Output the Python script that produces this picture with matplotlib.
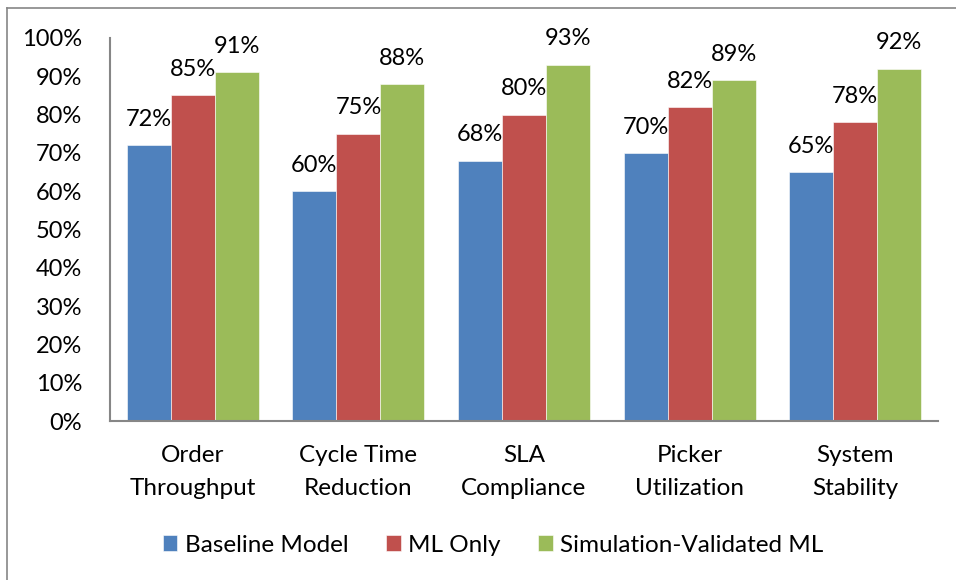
import matplotlib
matplotlib.use("Agg")
import matplotlib.pyplot as plt
import numpy as np
from matplotlib.ticker import FuncFormatter, MultipleLocator
from matplotlib.lines import Line2D

categories = ["Order\nThroughput", "Cycle Time\nReduction", "SLA\nCompliance", "Picker\nUtilization", "System\nStability"]
series_names = ["Baseline Model", "ML Only", "Simulation-Validated ML"]
baseline = [72, 60, 68, 70, 65]
ml_only = [85, 75, 80, 82, 78]
sim_ml = [91, 88, 93, 89, 92]
colors = ["#4F81BD", "#C0504D", "#9BBB59"]

plt.rcParams['font.family'] = ['Lato', 'DejaVu Sans']

W, H = 956, 580
fig = plt.figure(figsize=(W/100, H/100), dpi=100)
ax = fig.add_axes([110/W, 1-421/H, (938-110)/W, (421-38)/H])

x = np.arange(len(categories))
bw = 44/165.6
all_series = [baseline, ml_only, sim_ml]
for i, (vals, name, c) in enumerate(zip(all_series, series_names, colors)):
    pos = x + (i-1)*bw
    ax.bar(pos, vals, width=bw, color=c, label=name, edgecolor='white', linewidth=0.4)
    for p, v in zip(pos, vals):
        ax.text(p, v + 4, f"{v}%", ha='center', va='bottom', fontsize=17, color='black')

ax.set_xlim(-0.5, len(categories)-0.5)
ax.set_ylim(0, 100)
ax.yaxis.set_major_locator(MultipleLocator(10))
ax.yaxis.set_major_formatter(FuncFormatter(lambda v, p: f"{int(v)}%"))
ax.set_xticks(x)
ax.set_xticklabels(categories, fontsize=17.5, linespacing=1.72)
ax.tick_params(axis='both', length=0)
ax.tick_params(axis='y', pad=20, labelsize=17)
ax.tick_params(axis='x', pad=17)
for s in ['top', 'right']:
    ax.spines[s].set_visible(False)
for s in ['left', 'bottom']:
    ax.spines[s].set_color('#868686')
    ax.spines[s].set_linewidth(1.5)

fig.legend(loc='center', bbox_to_anchor=(493/W, 1-545/H), ncol=3, frameon=False,
           fontsize=17.5, handlelength=0.6, handleheight=0.6, handletextpad=0.3,
           columnspacing=1.55)

# outer chart border
fig.add_artist(Line2D([7/W, 7/W], [0, 1-8/H], color='#868686', linewidth=1.2, transform=fig.transFigure))
fig.add_artist(Line2D([7/W, 1], [1-8/H, 1-8/H], color='#868686', linewidth=1.2, transform=fig.transFigure))

fig.savefig("out.png", dpi=100)
